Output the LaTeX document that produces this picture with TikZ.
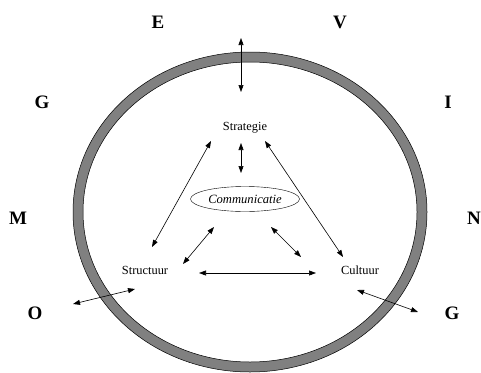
\documentclass[tikz,border=0pt]{standalone}
\usepackage{fontspec}
\setmainfont{Liberation Serif}
\usetikzlibrary{arrows.meta,shapes.geometric}
\begin{document}
\begin{tikzpicture}[x=1pt,y=-1pt,
  big/.style={font=\fontsize{19}{19}\selectfont\bfseries, inner sep=0pt},
  lbl/.style={font=\fontsize{12.4}{13}\selectfont, inner sep=0pt},
  dbl/.style={{Triangle[length=7pt,width=5pt]}-{Triangle[length=7pt,width=5pt]}, line width=0.6pt}]
\useasboundingbox (0,0) rectangle (481,372);
% ring
\fill[fill=black!50, draw=black, line width=0.5pt, even odd rule]
  (250,212) ellipse [x radius=177pt, y radius=160pt]
  (250,212) ellipse [x radius=167pt, y radius=150pt];
% outer letters
\node[big] (e) at (158,22) {E};
\node[big] (v) at (340,22) {V};
\node[big] (g1) at (42,102) {G};
\node[big] (i) at (448,102) {I};
\node[big] (m) at (18,218) {M};
\node[big] (n) at (474,218) {N};
\node[big] (o) at (35,313) {O};
\node[big] (g2) at (452,313) {G};
% inner labels
\node[lbl] (strat) at (245,128) {Strategie};
\node[lbl] (struc) at (145,270) {Structuur};
\node[lbl] (cult) at (360,270) {Cultuur};
\node[draw, ellipse, minimum width=109pt, minimum height=25pt, inner sep=0pt,
      font=\fontsize{12.6}{13}\selectfont\itshape] (comm) at (245,199) {Communicatie};
% arrow end coordinates
\coordinate (t1) at (241,38);
\coordinate (t2) at (241,92);
\coordinate (sc1) at (241,143);
\coordinate (sc2) at (241,173);
\coordinate (ss1) at (211,141);
\coordinate (ss2) at (152,247);
\coordinate (scu1) at (265,141);
\coordinate (scu2) at (343,257);
\coordinate (cs1) at (214,227);
\coordinate (cs2) at (183,264);
\coordinate (cc1) at (271,227);
\coordinate (cc2) at (301,257);
\coordinate (h1) at (199,273);
\coordinate (h2) at (316,273);
\coordinate (o1) at (73,304);
\coordinate (o2) at (135,289);
\coordinate (g1a) at (357,290);
\coordinate (g2a) at (418,312);
% arrows
\draw[dbl] (t1) -- (t2);
\draw[dbl] (sc1) -- (sc2);
\draw[dbl] (ss1) -- (ss2);
\draw[dbl] (scu1) -- (scu2);
\draw[dbl] (cs1) -- (cs2);
\draw[dbl] (cc1) -- (cc2);
\draw[dbl] (h1) -- (h2);
\draw[dbl] (o1) -- (o2);
\draw[dbl] (g1a) -- (g2a);
\end{tikzpicture}
\end{document}
